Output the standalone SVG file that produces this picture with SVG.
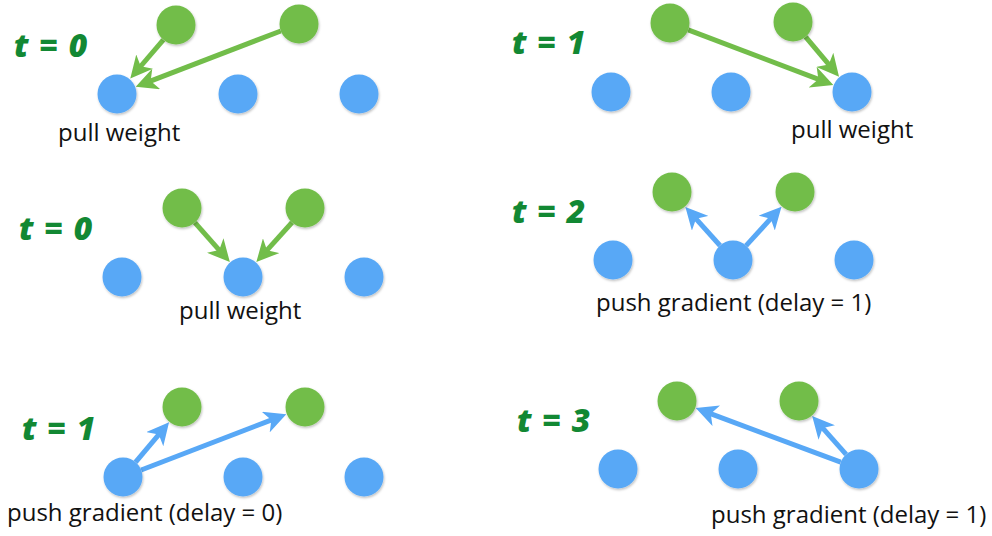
<svg xmlns="http://www.w3.org/2000/svg" width="992" height="536" viewBox="0 0 992 536">
<style>
.g{fill:#72bd4a;filter:url(#sh)}
.b{fill:#58a8f6;filter:url(#sh)}
.ag{fill:none;stroke:#72bd4a;stroke-width:5;marker-end:url(#mg)}
.ab{fill:none;stroke:#58a8f6;stroke-width:5;marker-end:url(#mb)}
.t{font-family:"Open Sans","Noto Sans",sans-serif;font-weight:800;font-style:italic;font-size:32px;fill:#128833;letter-spacing:1.2px}
.c{font-family:"Open Sans","Noto Sans",sans-serif;font-size:24px;fill:#111}
</style>
<defs>
<filter id="sh" x="-30%" y="-30%" width="160%" height="160%">
<feDropShadow dx="0.8" dy="1.5" stdDeviation="1.2" flood-color="#000" flood-opacity="0.25"/>
</filter>
<marker id="mg" markerUnits="userSpaceOnUse" markerWidth="22" markerHeight="22" refX="7" refY="11" orient="auto" viewBox="0 0 22 22">
<path d="M0,0 L22,11 L0,22 L6,11 Z" fill="#72bd4a"/>
</marker>
<marker id="mb" markerUnits="userSpaceOnUse" markerWidth="22" markerHeight="22" refX="7" refY="11" orient="auto" viewBox="0 0 22 22">
<path d="M0,0 L22,11 L0,22 L6,11 Z" fill="#58a8f6"/>
</marker>
</defs>
<rect width="992" height="536" fill="#fff"/>

<g id="connectors">
<path class="ag" d="M163.3,39.8 L140.05,67"/>
<path class="ag" d="M280.8,31 L149.7,81.4"/>
<path class="ag" d="M688.2,29.9 L819.3,79.6"/>
<path class="ag" d="M805.6,36.9 L829.4,65.2"/>
<path class="ag" d="M194.9,222.6 L219.9,250.8"/>
<path class="ag" d="M292,222.5 L266.4,250.9"/>
<path class="ab" d="M720,245.5 L695.4,218.1"/>
<path class="ab" d="M746.1,245.6 L771.4,217.9"/>
<path class="ab" d="M135.6,462.1 L159.4,433.8"/>
<path class="ab" d="M141.2,470 L272.3,419.6"/>
<path class="ab" d="M840.7,462.2 L709.8,413.3"/>
<path class="ab" d="M846.1,454.4 L822.1,427.3"/>
</g>

<g id="p1-g1"><circle class="g" cx="176" cy="25" r="19.5"/></g>
<g id="p1-g2"><circle class="g" cx="299" cy="24" r="19.5"/></g>
<g id="p1-b1"><circle class="b" cx="117" cy="94" r="19.5"/></g>
<g id="p1-b2"><circle class="b" cx="238" cy="94" r="19.5"/></g>
<g id="p1-b3"><circle class="b" cx="359" cy="94" r="19.5"/></g>

<g id="p2-g1"><circle class="g" cx="670" cy="23" r="19.5"/></g>
<g id="p2-g2"><circle class="g" cx="793" cy="22" r="19.5"/></g>
<g id="p2-b1"><circle class="b" cx="611" cy="92" r="19.5"/></g>
<g id="p2-b2"><circle class="b" cx="731" cy="92" r="19.5"/></g>
<g id="p2-b3"><circle class="b" cx="852" cy="92" r="19.5"/></g>

<g id="p3-g1"><circle class="g" cx="182" cy="208" r="19.5"/></g>
<g id="p3-g2"><circle class="g" cx="305" cy="208" r="19.5"/></g>
<g id="p3-b1"><circle class="b" cx="122" cy="277" r="19.5"/></g>
<g id="p3-b2"><circle class="b" cx="243" cy="277" r="19.5"/></g>
<g id="p3-b3"><circle class="b" cx="364" cy="277" r="19.5"/></g>

<g id="p4-g1"><circle class="g" cx="672" cy="192" r="19.5"/></g>
<g id="p4-g2"><circle class="g" cx="795" cy="192" r="19.5"/></g>
<g id="p4-b1"><circle class="b" cx="613" cy="260" r="19.5"/></g>
<g id="p4-b2"><circle class="b" cx="733" cy="260" r="19.5"/></g>
<g id="p4-b3"><circle class="b" cx="854" cy="260" r="19.5"/></g>

<g id="p5-g1"><circle class="g" cx="182" cy="407" r="19.5"/></g>
<g id="p5-g2"><circle class="g" cx="305" cy="407" r="19.5"/></g>
<g id="p5-b1"><circle class="b" cx="123" cy="477" r="19.5"/></g>
<g id="p5-b2"><circle class="b" cx="243" cy="477" r="19.5"/></g>
<g id="p5-b3"><circle class="b" cx="364" cy="477" r="19.5"/></g>

<g id="p6-g1"><circle class="g" cx="677" cy="401" r="19.5"/></g>
<g id="p6-g2"><circle class="g" cx="799" cy="401" r="19.5"/></g>
<g id="p6-b1"><circle class="b" cx="618" cy="469" r="19.5"/></g>
<g id="p6-b2"><circle class="b" cx="738" cy="469" r="19.5"/></g>
<g id="p6-b3"><circle class="b" cx="859" cy="469" r="19.5"/></g>

<g id="labels">
<text class="t" x="14" y="57">t = 0</text>
<text class="t" x="512" y="54">t = 1</text>
<text class="t" x="19" y="240">t = 0</text>
<text class="t" x="512" y="223">t = 2</text>
<text class="t" x="22" y="440">t = 1</text>
<text class="t" x="517" y="432">t = 3</text>
<text class="c" x="58" y="141">pull weight</text>
<text class="c" x="791" y="138">pull weight</text>
<text class="c" x="179" y="319">pull weight</text>
<text class="c" x="596" y="311">push gradient (delay = 1)</text>
<text class="c" x="7" y="521">push gradient (delay = 0)</text>
<text class="c" x="711" y="523">push gradient (delay = 1)</text>
</g>
</svg>
